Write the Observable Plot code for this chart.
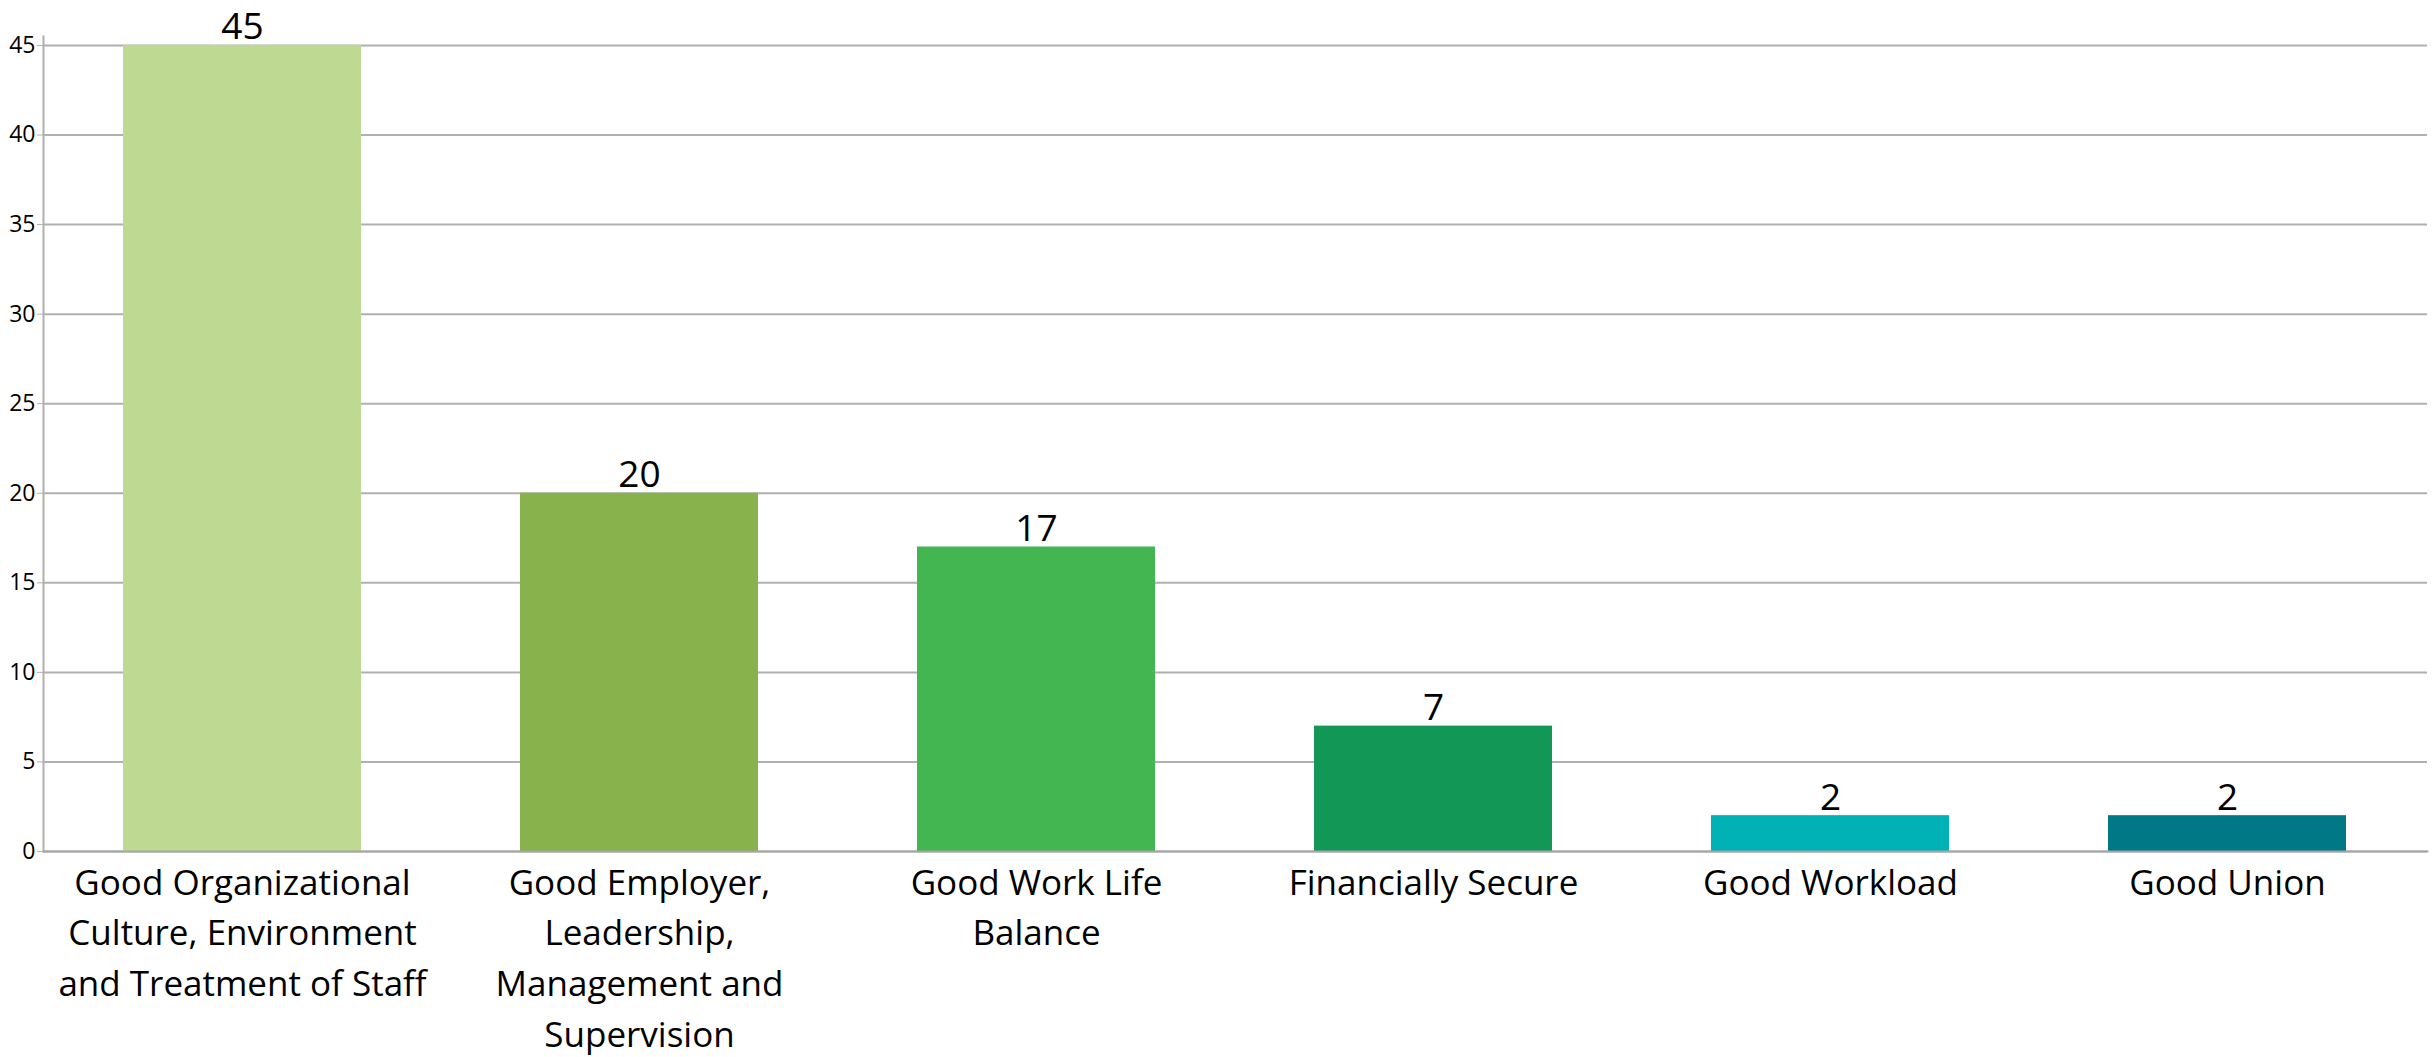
<!DOCTYPE html>
<html>
<head>
<meta charset="utf-8">
<script src="https://cdn.jsdelivr.net/npm/d3@7"></script>
<script src="https://cdn.jsdelivr.net/npm/@observablehq/plot@0.6"></script>
<style>
  html, body { margin: 0; padding: 0; background: #fff; }
  #chart svg { display: block; }
</style>
</head>
<body>
<div id="chart"></div>
<script>
const categories = [
  "Good Organizational\nCulture, Environment\nand Treatment of Staff",
  "Good Employer,\nLeadership,\nManagement and\nSupervision",
  "Good Work Life\nBalance",
  "Financially Secure",
  "Good Workload",
  "Good Union"
];
const values = [45, 20, 17, 7, 2, 2];
const colors = ["#bdd992", "#88b24b", "#43b551", "#139756", "#00b2b6", "#017885"];
const yTicks = [0, 5, 10, 15, 20, 25, 30, 35, 40, 45];

const data = categories.map((c, i) => ({category: c, value: values[i], color: colors[i]}));

const font = "'Open Sans', 'Noto Sans', sans-serif";

const chart = Plot.plot({
  width: 2432,
  height: 1057,
  marginTop: 36,
  marginLeft: 43,
  marginRight: 5,
  marginBottom: 206,
  style: {fontFamily: font, color: "#000", background: "#fff"},
  x: {domain: categories, paddingInner: 0.4, paddingOuter: 0.2},
  y: {domain: [0, 45.5]},
  marks: [
    Plot.gridY(yTicks, {stroke: "#b0b0b0", strokeOpacity: 1, strokeWidth: 2}),
    Plot.barY(data, {x: "category", y: "value", fill: "color"}),
    Plot.frame({anchor: "left", stroke: "#b0b0b0", strokeWidth: 2}),
    Plot.frame({anchor: "bottom", stroke: "#a6a6a6", strokeWidth: 2}),
    Plot.axisY(yTicks, {tickSize: 6, tickPadding: 2, fontSize: 23, stroke: "#b0b0b0", fill: "#000", label: null}),
    Plot.axisX({tickSize: 0, tickPadding: 7, fontSize: 35, lineHeight: 1.45, fill: "#000", label: null}),
    Plot.text(data, {x: "category", y: "value", text: d => String(d.value), dy: -6, lineAnchor: "bottom", fontSize: 37, fill: "#000"})
  ]
});
document.getElementById("chart").appendChild(chart);
</script>
</body>
</html>
